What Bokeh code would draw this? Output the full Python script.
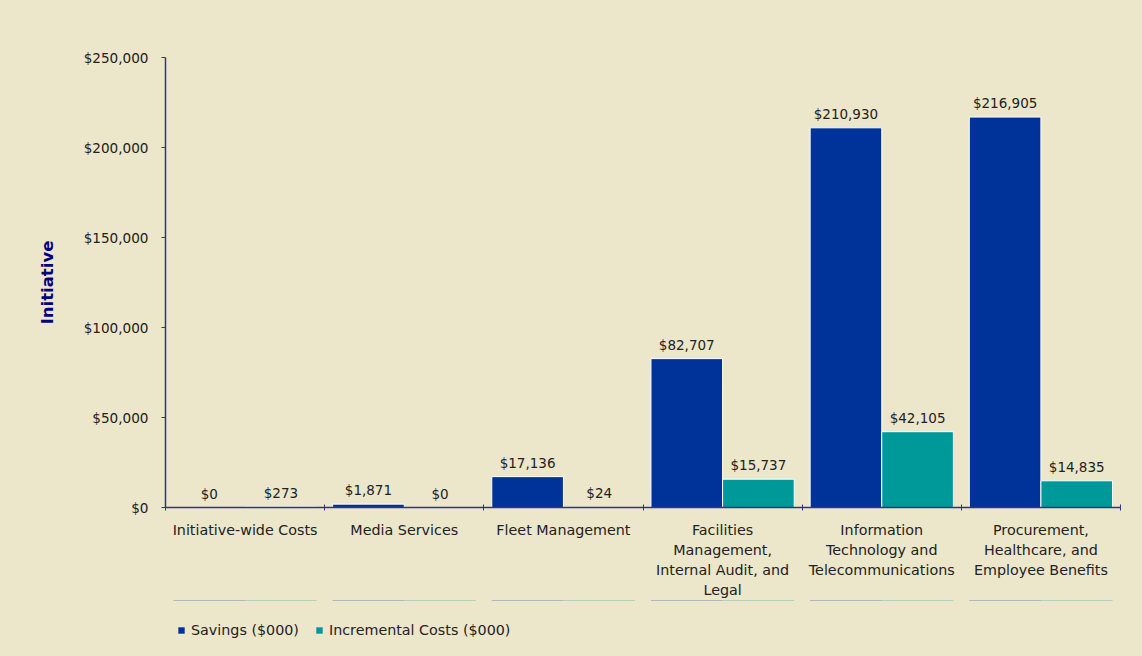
from bokeh.plotting import figure
from bokeh.layouts import column
from bokeh.models import (ColumnDataSource, Range1d, LinearAxis,
                          FixedTicker, NumeralTickFormatter, LabelSet, Legend, LegendItem)
from bokeh.core.properties import value
from bokeh.embed import file_html
from bokeh.resources import INLINE

categories = ["Initiative-wide Costs", "Media Services", "Fleet Management",
              "Facilities\nManagement,\nInternal Audit, and\nLegal",
              "Information\nTechnology and\nTelecommunications",
              "Procurement,\nHealthcare, and\nEmployee Benefits"]
savings = [0, 1871, 17136, 82707, 210930, 216905]
incremental = [273, 0, 24, 15737, 42105, 14835]
y_ticks = [0, 50000, 100000, 150000, 200000, 250000]
series_names = ["Savings ($000)", "Incremental Costs ($000)"]

BG = "#ECE6CA"
NAVY = "#003399"
TEAL = "#009999"
AXIS = "#333388"
TXT = "#222222"
FONT = "DejaVu Sans"
BAR_W = 0.45

n = len(categories)
centers = [i + 0.5 for i in range(n)]
edges = list(range(n + 1))
src = ColumnDataSource(dict(
    xs=[c - BAR_W / 2 for c in centers], xi=[c + BAR_W / 2 for c in centers],
    sav=savings, inc=incremental,
    sav_lbl=["${:,}".format(v) for v in savings],
    inc_lbl=["${:,}".format(v) for v in incremental],
))

p = figure(width=1142, height=600, x_range=Range1d(0, n),
           y_range=Range1d(0, 250000), output_backend="svg", toolbar_location=None,
           x_axis_location=None, y_axis_location=None,
           background_fill_color=BG, border_fill_color=BG,
           min_border_left=165, min_border_right=22, min_border_top=57, min_border_bottom=93)
p.outline_line_color = None
p.xgrid.visible = False
p.ygrid.visible = False

r1 = p.vbar(x="xs", top="sav", width=BAR_W, source=src,
            fill_color=NAVY, line_color="white", line_width=1)
r2 = p.vbar(x="xi", top="inc", width=BAR_W, source=src,
            fill_color=TEAL, line_color="white", line_width=1)

for xcol, top, col in (("xs", "sav", "sav_lbl"), ("xi", "inc", "inc_lbl")):
    p.add_layout(LabelSet(x=xcol, y=top, text=col, source=src,
                          y_offset=6, text_align="center", text_baseline="bottom",
                          text_font=value(FONT), text_font_size="13.5px", text_color=TXT))

# y axis
yax = LinearAxis(ticker=FixedTicker(ticks=y_ticks), formatter=NumeralTickFormatter(format="$0,0"),
                 axis_line_color=AXIS, axis_line_width=1.5,
                 major_tick_line_color=AXIS, major_tick_in=0, major_tick_out=4,
                 minor_tick_line_color=None,
                 major_label_text_font=FONT, major_label_text_font_size="13.6px",
                 major_label_text_color=TXT, major_label_standoff=13,
                 axis_label="Initiative", axis_label_text_font=FONT,
                 axis_label_text_font_size="16.5px", axis_label_text_font_style="bold",
                 axis_label_text_color="#000080", axis_label_standoff=24)
p.add_layout(yax, "left")

# x axis: labels at category centers, boundary ticks as minor ticks
cat_ax = LinearAxis(ticker=FixedTicker(ticks=centers, minor_ticks=edges),
                    axis_line_color=AXIS, axis_line_width=1.5,
                    major_tick_line_color=None, major_tick_in=0, major_tick_out=0,
                    minor_tick_line_color=AXIS, minor_tick_in=3, minor_tick_out=3,
                    major_label_text_font=FONT, major_label_text_font_size="14.3px",
                    major_label_text_line_height=1.25,
                    major_label_text_color=TXT, major_label_standoff=11,
                    major_label_overrides={c: lbl for c, lbl in zip(centers, categories)})
p.add_layout(cat_ax, "below")

# legend strip below the chart (its bars lie outside its view; only the legend shows)
p2 = figure(width=1142, height=56, x_range=Range1d(0, n), y_range=Range1d(-2, -1),
            output_backend="svg", toolbar_location=None,
            x_axis_location=None, y_axis_location=None,
            background_fill_color=BG, border_fill_color=BG,
            min_border_left=0, min_border_right=0, min_border_top=0, min_border_bottom=0)
p2.outline_line_color = None
p2.xgrid.visible = False
p2.ygrid.visible = False
s1 = p2.vbar(x="xs", top="sav", width=BAR_W, source=src, fill_color=NAVY, line_color=None)
s2 = p2.vbar(x="xi", top="inc", width=BAR_W, source=src, fill_color=TEAL, line_color=None)
legend = Legend(items=[LegendItem(label=series_names[0], renderers=[s1]),
                       LegendItem(label=series_names[1], renderers=[s2])],
                orientation="horizontal", location=(12, 18),
                background_fill_alpha=0, border_line_color=None,
                glyph_width=8, glyph_height=8, label_standoff=6, spacing=16,
                padding=0, margin=0,
                label_text_font=FONT, label_text_font_size="14.3px", label_text_color=TXT)
p2.add_layout(legend, "center")

layout = column(p, p2, spacing=0, styles={"background-color": BG})
open("out.html", "w").write(file_html(layout, INLINE))
